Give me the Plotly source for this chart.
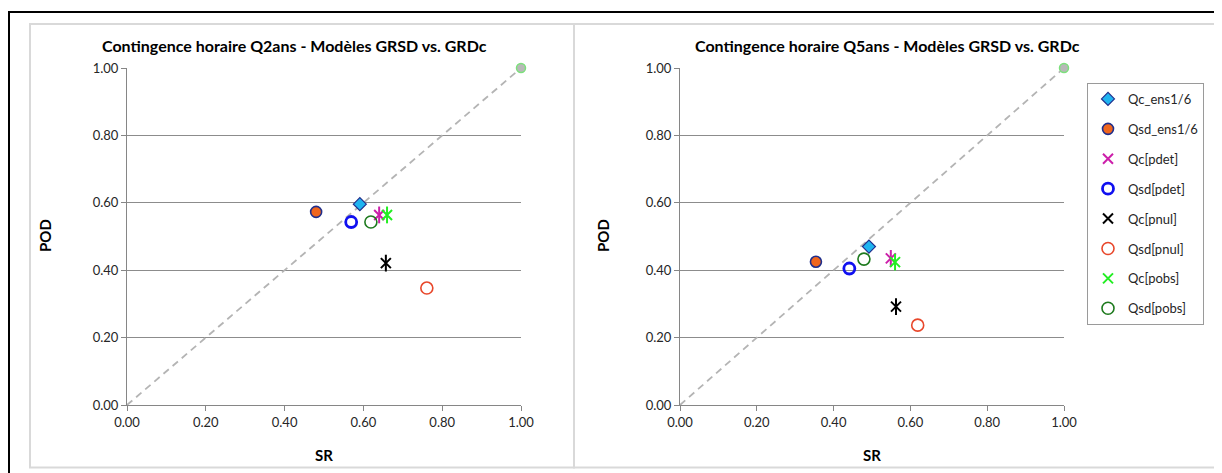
import plotly.graph_objects as go

W, H = 1222, 473
OFF = 8  # page body margin

series = ["Qc_ens1/6", "Qsd_ens1/6", "Qc[pdet]", "Qsd[pdet]", "Qc[pnul]", "Qsd[pnul]", "Qc[pobs]", "Qsd[pobs]"]
sr_q2 = [0.591, 0.480, 0.640, 0.569, 0.657, 0.761, 0.660, 0.619]
pod_q2 = [0.596, 0.573, 0.564, 0.543, 0.421, 0.347, 0.564, 0.543]
sr_q5 = [0.492, 0.354, 0.549, 0.441, 0.5625, 0.619, 0.560, 0.479]
pod_q5 = [0.470, 0.425, 0.435, 0.405, 0.292, 0.237, 0.424, 0.433]
diag = [0.0, 1.0]
ticks = [0.0, 0.2, 0.4, 0.6, 0.8, 1.0]
tick_labels = ["0.00", "0.20", "0.40", "0.60", "0.80", "1.00"]
titles = ["Contingence horaire Q2ans - Modèles GRSD vs. GRDc",
          "Contingence horaire Q5ans - Modèles GRSD vs. GRDc"]

FONT = "Lato"

styles = {
    "Qc_ens1/6": dict(symbol="diamond", size=10, color="#1FB4F0", line=dict(color="#1F2E8C", width=1.2)),
    "Qsd_ens1/6": dict(symbol="circle", size=11, color="#F0661E", line=dict(color="#1F2E8C", width=1.6)),
    "Qc[pdet]": dict(symbol="x-thin-open", size=10, color="#CC1FAA", line=dict(color="#CC1FAA", width=2)),
    "Qsd[pdet]": dict(symbol="circle-open", size=11, color="#1010F0", line=dict(color="#1010F0", width=2.8)),
    "Qc[pnul]": dict(symbol="x-thin-open", size=10, color="#000000", line=dict(color="#000000", width=2)),
    "Qsd[pnul]": dict(symbol="circle-open", size=12, color="#E8472B", line=dict(color="#E8472B", width=1.6)),
    "Qc[pobs]": dict(symbol="x-thin-open", size=10, color="#22EE22", line=dict(color="#22EE22", width=2)),
    "Qsd[pobs]": dict(symbol="circle-open", size=12, color="#1E7A1E", line=dict(color="#1E7A1E", width=1.6)),
}

fig = go.Figure()

def px(x):
    return (x - OFF) / W

def py(y):
    return 1 - (y - OFF) / H

panels = [("x", "y", sr_q2, pod_q2, True), ("x2", "y2", sr_q5, pod_q5, False)]
for xa, ya, srv, podv, first in panels:
    fig.add_trace(go.Scatter(x=diag, y=diag, mode="lines", xaxis=xa, yaxis=ya,
                             line=dict(color="#B4B4B4", width=1.8, dash="7px,5px"),
                             showlegend=False, hoverinfo="skip"))
    fig.add_trace(go.Scatter(x=diag[1:], y=diag[1:], mode="markers", xaxis=xa, yaxis=ya,
                             marker=dict(symbol="circle", size=9, color="#B8B8B8",
                                         line=dict(color="#7CE07C", width=1.5)),
                             cliponaxis=False, showlegend=False, hoverinfo="skip"))
    for i, name in enumerate(series):
        st = styles[name]
        fig.add_trace(go.Scatter(
            x=[srv[i]], y=[podv[i]], mode="markers", name=name, xaxis=xa, yaxis=ya,
            legendgroup=name, showlegend=first, cliponaxis=False,
            marker=dict(symbol=st["symbol"], size=st["size"], color=st["color"], line=st["line"])))
        if st["symbol"] == "x-thin-open":
            fig.add_trace(go.Scatter(
                x=[srv[i]], y=[podv[i]], mode="markers", xaxis=xa, yaxis=ya,
                legendgroup=name, showlegend=False, cliponaxis=False, hoverinfo="skip",
                marker=dict(symbol="line-ns-open", size=12, color=st["color"], line=st["line"])))

ydom = [py(405), py(68)]
axis_common = dict(range=[0, 1], tickvals=ticks, ticktext=tick_labels, showline=True,
                   linecolor="#868686", linewidth=1, ticks="outside", ticklen=5,
                   tickcolor="#868686", tickfont=dict(family=FONT, size=13, color="#262626"),
                   zeroline=False, fixedrange=True, automargin=False)

fig.update_layout(
    width=W, height=H, margin=dict(l=0, r=0, t=0, b=0, autoexpand=False),
    paper_bgcolor="white", plot_bgcolor="white",
    xaxis=dict(domain=[px(127), px(521)], anchor="y", showgrid=False, **axis_common),
    yaxis=dict(domain=ydom, anchor="x", showgrid=True, gridcolor="#8C8C8C", gridwidth=1, **axis_common),
    xaxis2=dict(domain=[px(680), px(1064)], anchor="y2", showgrid=False, **axis_common),
    yaxis2=dict(domain=ydom, anchor="x2", showgrid=True, gridcolor="#8C8C8C", gridwidth=1, **axis_common),
    legend=dict(x=px(1087), y=py(83), xanchor="left", yanchor="top",
                bordercolor="#9A9A9A", borderwidth=1, bgcolor="white",
                font=dict(family=FONT, size=13, color="#262626"),
                tracegroupgap=10, itemwidth=30),
    showlegend=True,
)

shapes = [
    dict(type="rect", xref="paper", yref="paper", x0=px(9), x1=px(1260), y0=py(12), y1=py(520),
         line=dict(color="black", width=2)),
    dict(type="rect", xref="paper", yref="paper", x0=px(30), x1=px(574), y0=py(24), y1=py(467.5),
         line=dict(color="#D9D9D9", width=2)),
    dict(type="rect", xref="paper", yref="paper", x0=px(574), x1=px(1218), y0=py(24), y1=py(467.5),
         line=dict(color="#D9D9D9", width=2)),
]
fig.update_layout(shapes=shapes)

ann = []
for cx, t in [(294, titles[0]), (887, titles[1])]:
    ann.append(dict(x=px(cx), y=py(45), xref="paper", yref="paper", text="<b>%s</b>" % t,
                    showarrow=False, font=dict(family=FONT, size=16, color="black"),
                    xanchor="center", yanchor="middle"))
for cx in [324, 872]:
    ann.append(dict(x=px(cx), y=py(455), xref="paper", yref="paper", text="<b>SR</b>",
                    showarrow=False, font=dict(family=FONT, size=15, color="black"),
                    xanchor="center", yanchor="middle"))
for cx in [45, 603]:
    ann.append(dict(x=px(cx), y=py(236), xref="paper", yref="paper", text="<b>POD</b>",
                    showarrow=False, textangle=-90, font=dict(family=FONT, size=15, color="black"),
                    xanchor="center", yanchor="middle"))
fig.update_layout(annotations=ann)

fig.write_html("out.html")
